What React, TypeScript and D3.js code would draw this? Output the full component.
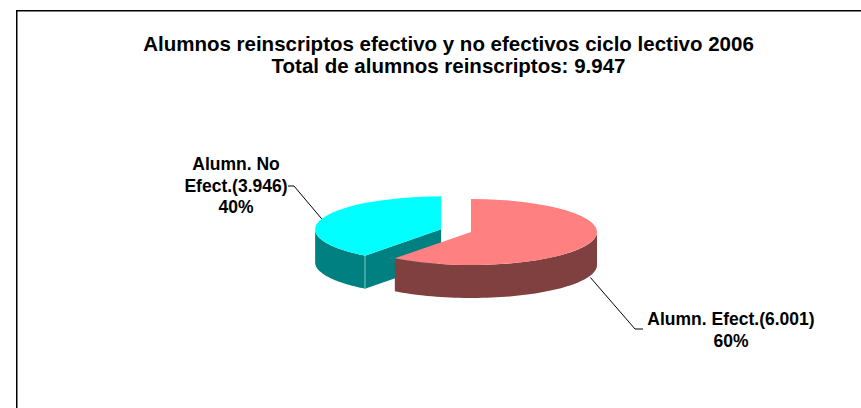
import React, { useEffect, useRef } from 'react';
import * as d3 from 'd3';

const categories = ['Alumn. Efect.', 'Alumn. No Efect.'];
const values = [6001, 3946];
const percents = ['60%', '40%'];
const topColors = ['#FF8080', '#00FFFF'];
const sideColors = ['#804040', '#008080'];
const titleLines = [
  'Alumnos reinscriptos efectivo y no efectivos ciclo lectivo 2006',
  'Total de alumnos reinscriptos: 9.947',
];

const App: React.FC = () => {
  const svgRef = useRef<SVGSVGElement>(null);

  useEffect(() => {
    if (!svgRef.current) return;
    const width = 861;
    const height = 408;
    const svg = d3.select(svgRef.current);
    svg.selectAll('*').remove();

    // frame of the chart area (runs off the right/bottom edges)
    svg
      .append('rect')
      .attr('x', 16.75)
      .attr('y', 10.75)
      .attr('width', width + 20)
      .attr('height', height + 20)
      .attr('fill', 'white')
      .attr('stroke', '#000')
      .attr('stroke-width', 1.5);

    // title
    const title = svg
      .append('text')
      .attr('text-anchor', 'middle')
      .attr('font-family', 'Liberation Sans, Arial, sans-serif')
      .attr('font-weight', 'bold')
      .attr('font-size', 20.5)
      .attr('fill', '#000');
    titleLines.forEach((t, i) => {
      title.append('tspan').attr('x', 448.5).attr('y', 51 + i * 22).text(t);
    });

    // 3D pie geometry
    const cx = 471;
    const cy = 232;
    const rx = 126;
    const ry = 33;
    const depth = 33;
    const explode = [0, 31.5];

    const pie = d3.pie<number>().sort(null).value((d) => d);
    const arcs = pie(values);

    const px = (a: number) => rx * Math.sin(a);
    const py = (a: number) => -ry * Math.cos(a);

    const centers = arcs.map((a, i) => {
      const mid = (a.startAngle + a.endAngle) / 2;
      return {
        x: cx + explode[i] * Math.sin(mid),
        y: cy - explode[i] * Math.cos(mid) * (ry / rx),
      };
    });

    const line = d3.line<[number, number]>();

    // outer wall between angles a1..a2 (only the front half is visible)
    const wallPath = (c: { x: number; y: number }, a1: number, a2: number) => {
      const steps = d3.range(0, 61).map((k) => a1 + ((a2 - a1) * k) / 60);
      const top = steps.map((a) => [c.x + px(a), c.y + py(a)] as [number, number]);
      const bot = steps
        .slice()
        .reverse()
        .map((a) => [c.x + px(a), c.y + py(a) + depth] as [number, number]);
      return line([...top, ...bot]) + 'Z';
    };

    const cutPath = (c: { x: number; y: number }, a: number) => {
      const pts: [number, number][] = [
        [c.x, c.y],
        [c.x + px(a), c.y + py(a)],
        [c.x + px(a), c.y + py(a) + depth],
        [c.x, c.y + depth],
      ];
      return line(pts) + 'Z';
    };

    const arcGen = d3.arc<d3.PieArcDatum<number>>().innerRadius(0).outerRadius(rx);

    // draw back slice (cyan) first, then front slice (pink)
    const order = [1, 0];
    order.forEach((i) => {
      const a = arcs[i];
      const c = centers[i];
      const g = svg.append('g');
      // visible cut face at the start angle when facing the viewer
      if (Math.sin(a.startAngle) < 0 && i === 1) {
        g.append('path')
          .attr('d', cutPath(c, a.startAngle))
          .attr('fill', sideColors[i]);
      }
      const w1 = Math.max(a.startAngle, Math.PI / 2);
      const w2 = Math.min(a.endAngle, (3 * Math.PI) / 2);
      if (w2 > w1) {
        g.append('path')
          .attr('d', wallPath(c, w1, w2))
          .attr('fill', sideColors[i]);
      }
      if (i === 1) {
        g.append('line')
          .attr('x1', c.x + px(a.startAngle))
          .attr('y1', c.y + py(a.startAngle))
          .attr('x2', c.x + px(a.startAngle))
          .attr('y2', c.y + py(a.startAngle) + depth)
          .attr('stroke', '#9fdcdc')
          .attr('stroke-width', 0.8);
      }
      g.append('path')
        .attr('d', arcGen(a) as string)
        .attr('transform', `translate(${c.x},${c.y}) scale(1,${ry / rx})`)
        .attr('fill', topColors[i]);
    });

    // labels with leader lines
    const labelFont = 'Liberation Sans, Arial, sans-serif';
    const labelLayout = [
      { x: 731, y: 325, lines: [`${categories[0]}(6.001)`, percents[0]], elbow: [635, 329], end: [643, 329], bottom: true },
      { x: 236, y: 170, lines: ['Alumn. No', 'Efect.(3.946)', percents[1]], elbow: [294, 186], end: [288, 186], bottom: false },
    ];

    labelLayout.forEach((l, i) => {
      const a = arcs[i];
      const mid = (a.startAngle + a.endAngle) / 2;
      const c = centers[i];
      const sx = c.x + px(mid);
      const sy = c.y + py(mid) + (l.bottom ? depth + 2 : 0);
      svg
        .append('path')
        .attr('d', line([[sx, sy], l.elbow as [number, number], l.end as [number, number]]) as string)
        .attr('fill', 'none')
        .attr('stroke', '#000')
        .attr('stroke-width', 1);

      const t = svg
        .append('text')
        .attr('text-anchor', 'middle')
        .attr('font-family', labelFont)
        .attr('font-weight', 'bold')
        .attr('font-size', 17.5)
        .attr('fill', '#000');
      l.lines.forEach((s, k) => {
        t.append('tspan').attr('x', l.x).attr('y', l.y + k * 21.7).text(s);
      });
    });
  }, []);

  return (
    <svg
      ref={svgRef}
      width={861}
      height={408}
      style={{ position: 'absolute', left: 0, top: 0, background: 'white' }}
    ></svg>
  );
};

export default App;
